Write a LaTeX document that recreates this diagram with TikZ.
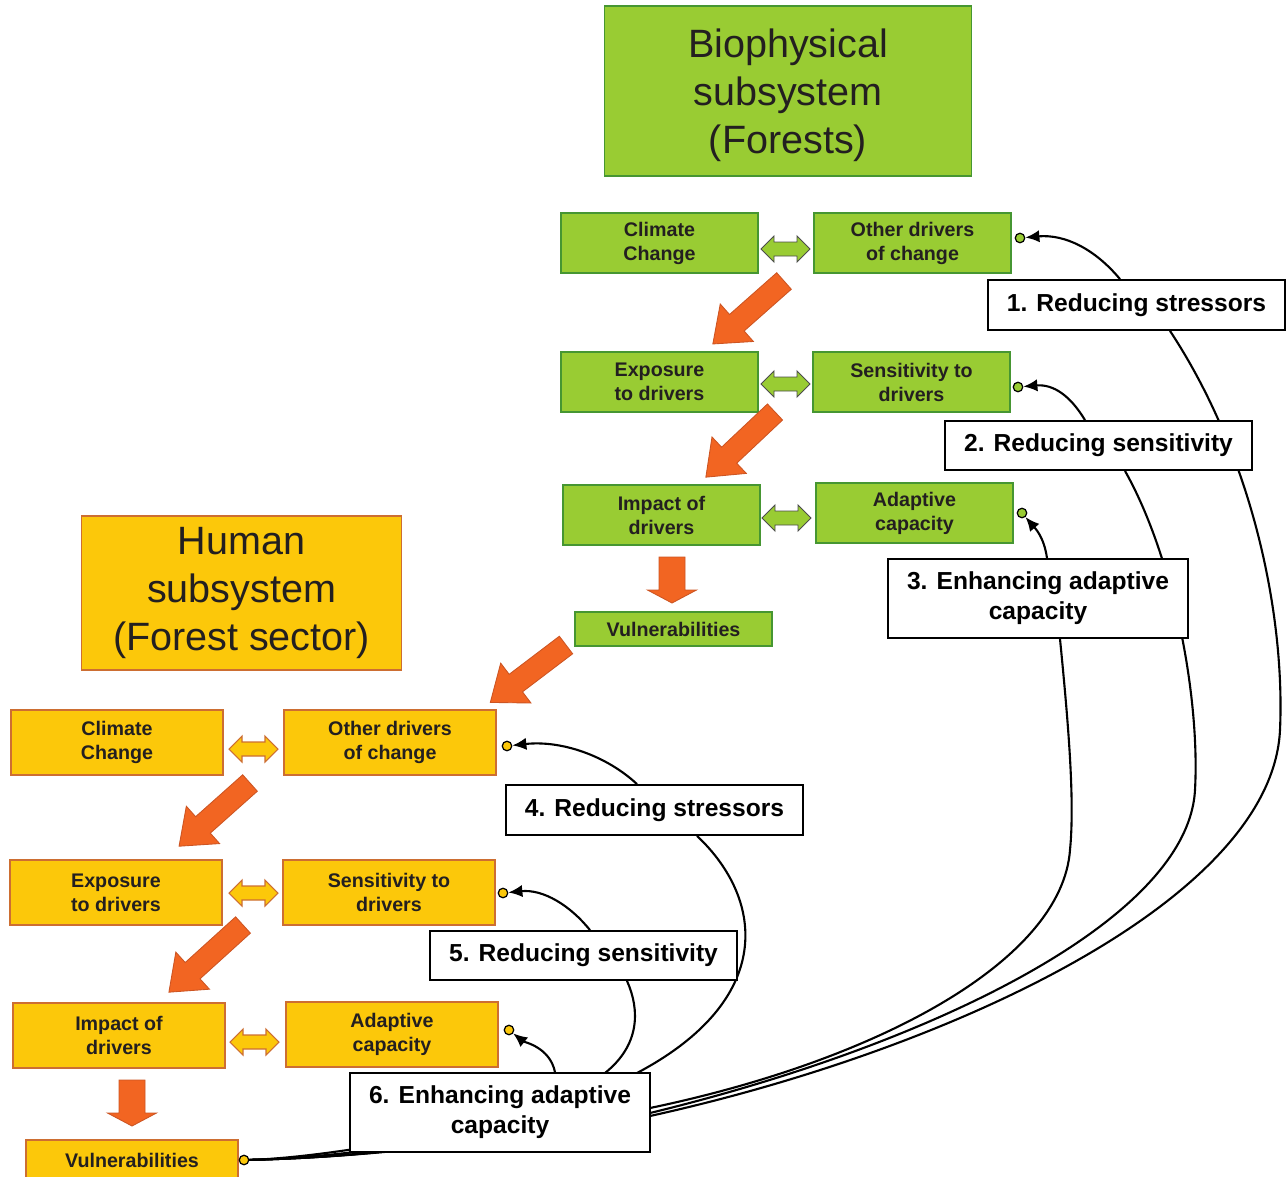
\documentclass[tikz,border=0pt]{standalone}
\usepackage{fontspec}
\setmainfont{Liberation Sans}
\usetikzlibrary{arrows.meta, backgrounds}

\definecolor{leafgreen}{RGB}{153,204,51}
\definecolor{leafedge}{RGB}{70,150,50}
\definecolor{sunyellow}{RGB}{252,200,10}
\definecolor{sunedge}{RGB}{205,110,50}
\definecolor{rustorange}{RGB}{242,101,34}
\definecolor{rustedge}{RGB}{205,85,35}
\definecolor{inktext}{RGB}{35,31,32}

\tikzset{
  titlebox/.style = {draw, line width=0.6pt, align=center, inner sep=0pt,
    font=\fontsize{22.5}{27.3}\selectfont, text=inktext},
  biobox/.style = {draw=leafedge, fill=leafgreen, line width=0.6pt, align=center,
    minimum width=3.94cm, minimum height=1.2cm, inner sep=0pt,
    font=\fontsize{11.2}{13.7}\selectfont\bfseries, text=inktext},
  humbox/.style = {biobox, draw=sunedge, fill=sunyellow, minimum width=4.24cm, minimum height=1.3cm},
  stepbox/.style = {draw, fill=white, line width=1pt, align=center, minimum width=5.94cm,
    minimum height=1cm, inner sep=0pt, font=\fontsize{14}{17}\selectfont\bfseries},
  endmark/.style = {circle, draw, line width=0.7pt, inner sep=0pt, minimum size=0.19cm},
  link/.style = {line width=1.2pt},
  pointer/.style = {link, -{Latex[length=8pt, width=7pt]}},
  fatarrow/.style = {fill=rustorange, draw=rustedge, line width=0.5pt},
  biotwin/.style = {fill=leafgreen, draw=black!70, line width=0.5pt},
  humtwin/.style = {fill=sunyellow, draw=sunedge, line width=0.6pt},
}

% orange block arrow: [length]{tail}{direction}
\newcommand{\blockarrow}[3][95]{%
  \draw[fatarrow, shift={#2}, rotate=#3] (0,-11) -- (#1-32,-11) -- (#1-32,-25) -- (#1,0)
    -- (#1-32,25) -- (#1-32,11) -- (0,11) -- cycle;}
% short downward block arrow
\newcommand{\droparrow}[1]{%
  \draw[fatarrow, shift={#1}, rotate=270] (0,-13) -- (33,-13) -- (33,-24.5) -- (46,0)
    -- (33,24.5) -- (33,13) -- (0,13) -- cycle;}
% two-way arrow between boxes: {style}{left tip}
\newcommand{\twowayarrow}[2]{%
  \draw[#1, shift={#2}] (0,0) -- (13,-13) -- (13,-7) -- (36,-7) -- (36,-13) -- (49,0)
    -- (36,13) -- (36,7) -- (13,7) -- (13,13) -- cycle;}

\begin{document}
\begin{tikzpicture}[x=0.02cm, y=-0.02cm]
  \useasboundingbox (0,0) rectangle (1286,1177);

  % biophysical subsystem
  \node[titlebox, draw=leafedge, fill=leafgreen, minimum width=7.36cm, minimum height=3.4cm,
    text depth=-0.1cm] (biotitle) at (788,91) {Biophysical\\subsystem\\(Forests)};
  \node[biobox] (bclim) at (659.5,243) {Climate\\Change};
  \node[biobox] (bother) at (912.5,243) {Other drivers\\of change};
  \node[biobox] (bexpo) at (659.5,382) {Exposure\\to drivers};
  \node[biobox] (bsens) at (911.5,382) {Sensitivity to\\drivers};
  \node[biobox] (bimp) at (661.5,515) {Impact of\\drivers};
  \node[biobox] (badap) at (914.5,513) {Adaptive\\capacity};
  \node[biobox, minimum height=0.68cm] (bvuln) at (673.5,629) {Vulnerabilities};

  \twowayarrow{biotwin}{(761,249)}
  \twowayarrow{biotwin}{(761,384)}
  \twowayarrow{biotwin}{(762,518)}
  \blockarrow{(784,281)}{221.5}
  \blockarrow{(775,412)}{223.3}
  \droparrow{(672,557)}

  % human subsystem
  \node[titlebox, draw=sunedge, fill=sunyellow, minimum width=6.42cm, minimum height=3.08cm]
    (humtitle) at (241.5,593) {Human\\subsystem\\(Forest sector)};
  \node[humbox] (hclim) at (117,742.5) {Climate\\Change};
  \node[humbox] (hother) at (390,742.5) {Other drivers\\of change};
  \node[humbox] (hexpo) at (116,892.5) {Exposure\\to drivers};
  \node[humbox] (hsens) at (389,892.5) {Sensitivity to\\drivers};
  \node[humbox] (himp) at (119,1035.5) {Impact of\\drivers};
  \node[humbox] (hadap) at (392,1034.5) {Adaptive\\capacity};
  \node[humbox, minimum height=0.8cm] (hvuln) at (132,1160) {Vulnerabilities};

  \twowayarrow{humtwin}{(229,749)}
  \twowayarrow{humtwin}{(229,893)}
  \twowayarrow{humtwin}{(230,1042)}
  \blockarrow{(566,645)}{217.2}
  \blockarrow{(250,783)}{221.7}
  \blockarrow[100]{(243,925)}{222.2}
  \droparrow{(132,1080)}

  % small markers where the options act
  \node[endmark, fill=leafgreen] (m1) at (1020,238) {};
  \node[endmark, fill=leafgreen] (m2) at (1018,387) {};
  \node[endmark, fill=leafgreen] (m3) at (1022,513) {};
  \node[endmark, fill=sunyellow] (m4) at (507,746) {};
  \node[endmark, fill=sunyellow] (m5) at (503,893) {};
  \node[endmark, fill=sunyellow] (m6) at (509,1030) {};
  \node[endmark, fill=sunyellow] (mv) at (244,1160) {};

  % adaptation options
  \node[stepbox] (s1) at (1136.5,305) {1. Reducing stressors};
  \node[stepbox, minimum width=6.14cm, minimum height=0.98cm] (s2) at (1098.5,445.5) {2. Reducing sensitivity};
  \node[stepbox, minimum width=6cm, minimum height=1.58cm] (s3) at (1038,598.5) {3. Enhancing adaptive\\capacity};
  \node[stepbox] (s4) at (654.5,810) {4. Reducing stressors};
  \node[stepbox, minimum width=6.14cm, minimum height=0.98cm] (s5) at (583.5,955.5) {5. Reducing sensitivity};
  \node[stepbox, minimum width=6cm, minimum height=1.58cm] (s6) at (500,1112.5) {6. Enhancing adaptive\\capacity};

  \begin{scope}[on background layer]
    \draw[pointer] ([xshift=-0.33cm]s1.north) .. controls +(-25,-30) and +(45,-4) .. (m1);
    \draw[pointer] ([xshift=-0.27cm]s2.north) .. controls +(-15,-25) and +(35,-3) .. (m2);
    \draw[pointer] ([xshift=0.18cm]s3.north) .. controls +(-3,-22) and +(12,14) .. (m3);
    \draw[pointer] ([xshift=-0.35cm]s4.north) .. controls +(-30,-28) and +(55,-6) .. (m4);
    \draw[pointer] ([xshift=0.13cm]s5.north) .. controls +(-20,-25) and +(40,-4) .. (m5);
    \draw[pointer] ([xshift=1.1cm]s6.north) .. controls +(-5,-25) and +(15,12) .. (m6);

    % every option also feeds the human vulnerabilities
    \draw[link] ([xshift=0.67cm]s1.south) .. controls (1255,460) and (1285,620) .. (1280,730)
      .. controls (1272,900) and (950,1050) .. (650,1116) .. controls (450,1150) and (330,1158) .. (mv);
    \draw[link] ([xshift=0.53cm]s2.south) .. controls (1175,560) and (1200,700) .. (1195,790)
      .. controls (1188,920) and (930,1045) .. (650,1113) .. controls (450,1150) and (330,1158) .. (mv);
    \draw[link] ([xshift=0.44cm]s3.south) .. controls (1068,720) and (1075,800) .. (1070,850)
      .. controls (1062,960) and (880,1060) .. (650,1108) .. controls (450,1150) and (330,1158) .. (mv);
    \draw[link] ([xshift=0.85cm]s4.south) .. controls (765,900) and (775,1000) .. (637,1073)
      .. controls (520,1140) and (330,1158) .. (mv);
    \draw[link] ([xshift=0.87cm]s5.south) .. controls (640,1010) and (640,1045) .. (605,1073)
      .. controls (560,1120) and (330,1158) .. (mv);
  \end{scope}
\end{tikzpicture}
\end{document}
